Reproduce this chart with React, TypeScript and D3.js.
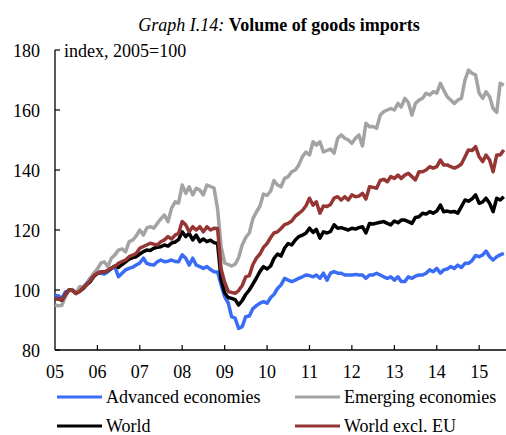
import React from "react";
import * as d3 from "d3";

const title = "Volume of goods imports";
const titlePrefix = "Graph I.14:";
const unitLabel = "index, 2005=100";
const seriesNames = ["Advanced economies", "Emerging economies", "World", "World excl. EU"];
const seriesColors = ["#3a6cf5", "#a3a3a3", "#000000", "#963634"];
const yTicks = [80, 100, 120, 140, 160, 180];
const yearTicks = [2005, 2006, 2007, 2008, 2009, 2010, 2011, 2012, 2013, 2014, 2015];
const startYear = 2005;

// monthly, Jan 2005 - Aug 2015
const advanced = [
  98.3, 98.0, 97.2, 99.4, 99.8, 100.0, 98.9, 100.3, 101.0, 102.2, 104.0, 104.8,
  105.6, 105.6, 105.3, 106.1, 107.2, 107.8, 104.4, 105.6, 106.7, 107.2, 107.6, 108.3,
  109.0, 110.6, 108.9, 108.5, 108.3, 109.4, 110.0, 109.4, 109.6, 110.0, 109.5, 109.4,
  111.7, 110.6, 108.3, 110.6, 108.3, 107.8, 107.2, 107.8, 106.8, 106.1, 106.0, 101.7,
  97.8, 95.6, 91.1, 90.6, 87.2, 87.8, 91.1, 91.3, 93.8, 94.8, 95.6, 96.1,
  95.6, 97.5, 98.5, 100.5, 101.7, 103.9, 103.3, 102.8, 103.3, 103.9, 104.4, 105.0,
  104.8, 104.4, 105.0, 103.9, 105.6, 103.3, 105.6, 106.1, 105.6, 105.6, 105.0, 105.0,
  105.0, 105.2, 105.0, 105.0, 103.9, 105.0, 105.0, 105.6, 105.0, 104.4, 103.9, 104.4,
  103.3, 104.4, 102.8, 102.8, 104.4, 103.9, 104.6, 105.0, 105.0, 105.6, 106.7, 106.1,
  107.2, 105.6, 106.7, 107.0, 107.8, 107.2, 108.3, 107.5, 108.9, 108.9, 109.8, 111.5,
  111.1, 111.7, 113.0, 111.1, 110.0, 111.1, 111.7, 112.2,
];
const emerging = [
  95.0, 94.7, 94.9, 97.8, 100.0, 100.2, 98.9, 101.1, 101.0, 101.7, 103.9, 105.6,
  107.0, 109.0, 109.4, 107.8, 110.6, 111.7, 113.3, 113.7, 112.7, 116.1, 116.6, 118.0,
  120.0, 118.3, 120.6, 121.1, 120.6, 122.2, 123.7, 125.0, 122.8, 127.2, 129.4, 129.0,
  135.0, 132.2, 134.4, 131.7, 133.9, 133.3, 131.7, 135.0, 134.5, 134.0, 127.0, 114.5,
  109.0, 108.5, 108.0, 108.6, 110.8, 115.0, 117.5, 119.0, 123.8, 126.0, 128.0, 132.0,
  131.5, 133.0, 136.5, 135.0, 134.4, 137.2, 137.8, 139.4, 140.0, 141.7, 144.4, 146.0,
  145.0, 149.4, 148.3, 149.4, 146.0, 146.5, 147.0, 145.6, 150.6, 151.7, 150.6, 150.0,
  148.9, 150.6, 151.7, 148.0, 155.6, 154.4, 154.5, 153.9, 158.3, 159.4, 160.0, 160.5,
  160.0, 162.2, 161.0, 163.9, 162.5, 158.3, 162.2, 163.3, 163.9, 165.6, 165.0, 166.1,
  165.6, 168.9, 166.7, 164.4, 163.3, 162.2, 163.3, 163.9, 170.0, 173.3, 172.2, 171.7,
  165.6, 163.9, 166.1, 164.4, 160.5, 159.2, 168.9, 168.3,
];
const world = [
  97.2, 97.0, 96.6, 98.5, 100.0, 99.8, 98.9, 99.5, 100.5, 101.8, 102.8, 104.5,
  105.5, 106.1, 106.0, 106.5, 107.2, 108.0, 107.5, 108.5, 109.4, 110.3, 110.8, 111.1,
  112.0, 112.8, 113.3, 113.2, 113.9, 114.2, 114.4, 115.0, 114.6, 115.6, 116.0, 116.8,
  119.4, 117.8, 118.9, 116.7, 118.3, 116.1, 117.0, 116.1, 116.6, 115.8, 115.5, 103.5,
  99.0, 97.5, 97.2, 96.8, 95.0, 96.5, 98.5, 100.0, 102.0, 104.0, 106.2, 107.8,
  107.0, 108.0, 110.5, 112.0, 111.3, 114.0, 115.5, 115.0, 116.7, 117.8, 118.3, 118.9,
  120.6, 119.2, 120.2, 117.3, 119.4, 119.0, 119.5, 121.7, 120.6, 120.8, 120.4, 120.0,
  120.6, 120.3, 120.8, 121.1, 119.0, 122.2, 122.0, 122.3, 122.6, 122.8, 122.2, 121.7,
  123.0, 122.4, 123.3, 123.3, 122.8, 122.2, 124.2, 124.4, 125.6, 125.3, 126.1, 125.6,
  126.3, 128.3, 126.1, 126.3, 126.0, 126.2, 125.6, 127.8, 130.0, 129.6, 130.4, 131.7,
  128.9, 129.4, 130.6, 128.9, 126.1, 130.6, 130.0, 131.1,
];
const worldExEU = [
  97.2, 97.0, 96.6, 98.5, 100.0, 99.8, 98.8, 99.6, 100.8, 101.8, 103.2, 104.8,
  105.6, 106.1, 106.0, 106.6, 107.3, 107.8, 108.9, 109.5, 110.0, 111.1, 111.6, 112.2,
  113.9, 114.5, 115.0, 115.6, 115.3, 115.0, 116.1, 116.7, 117.8, 117.0, 118.3, 118.9,
  122.8, 121.7, 119.4, 121.1, 120.0, 121.1, 119.4, 121.1, 120.0, 120.6, 120.5, 107.0,
  102.5, 99.5, 99.2, 98.9, 99.8, 101.5, 104.4, 104.8, 108.5, 110.6, 112.0, 114.2,
  115.5, 117.5, 119.0, 119.4, 120.5, 121.8, 122.2, 123.0, 124.6, 125.5, 126.5, 128.0,
  130.6, 128.3, 129.4, 125.6, 128.0, 127.8, 128.5, 130.6, 131.1, 130.0, 131.1, 130.0,
  131.7, 131.1, 131.3, 132.2, 130.3, 134.4, 134.2, 133.9, 136.5, 136.9, 136.1, 137.8,
  137.2, 138.3, 137.2, 138.3, 138.9, 137.8, 136.7, 139.4, 139.4, 140.0, 141.1, 140.6,
  141.1, 143.3, 141.7, 141.7, 141.1, 140.6, 141.1, 142.0, 144.4, 146.7, 146.5, 147.8,
  144.4, 142.8, 145.0, 143.3, 139.4, 145.0, 145.0, 146.7,
];

const allSeries = [advanced, emerging, world, worldExEU];

const W = 506;
const H = 435;
const FONT = "'Liberation Serif', 'Times New Roman', serif";

export default function App() {
  const x = d3
    .scaleTime()
    .domain([new Date(2005, 0, 1), new Date(2015, 7, 20)])
    .range([55, 506]);
  const y = d3.scaleLinear().domain([80, 180]).range([350, 50]);
  const dateOf = (i: number) => new Date(startYear, i, 1);

  const line = d3
    .line<number>()
    .x((_, i) => x(dateOf(i)))
    .y((v) => y(v));

  const legendItems = [
    { name: seriesNames[0], color: seriesColors[0], lx: 57, ly: 397 },
    { name: seriesNames[1], color: seriesColors[1], lx: 295, ly: 397 },
    { name: seriesNames[2], color: seriesColors[2], lx: 57, ly: 426 },
    { name: seriesNames[3], color: seriesColors[3], lx: 295, ly: 426 },
  ];

  return (
    <svg
      width={W}
      height={H}
      style={{ position: "absolute", left: 0, top: 0, background: "#fff" }}
      fontFamily={FONT}
    >
      <rect x={0} y={0} width={W} height={H} fill="#fff" />
      <text x={279} y={31} textAnchor="middle" fontSize={18}>
        <tspan fontStyle="italic">{titlePrefix} </tspan>
        <tspan fontWeight="bold">{title}</tspan>
      </text>

      {/* y axis */}
      <line x1={55} x2={55} y1={y(180)} y2={y(80)} stroke="#000" strokeWidth={1.3} />
      {yTicks.map((t) => (
        <g key={t}>
          <line x1={55} x2={60} y1={y(t)} y2={y(t)} stroke="#000" strokeWidth={1.2} />
          <text x={40} y={y(t) + 6.5} textAnchor="end" fontSize={18}>
            {t}
          </text>
        </g>
      ))}
      <text x={64} y={57} fontSize={18}>
        {unitLabel}
      </text>

      {/* x axis */}
      <line x1={55} x2={506} y1={350} y2={350} stroke="#000" strokeWidth={1.3} />
      {yearTicks.map((yr) => {
        const xx = x(new Date(yr, 0, 1));
        return (
          <g key={yr}>
            {yr > startYear && (
              <line x1={xx} x2={xx} y1={350} y2={345} stroke="#000" strokeWidth={1.2} />
            )}
            <text x={xx} y={378} textAnchor="middle" fontSize={18}>
              {String(yr % 100).padStart(2, "0")}
            </text>
          </g>
        );
      })}

      {/* lines */}
      {allSeries.map((s, k) => (
        <path
          key={k}
          d={line(s) || ""}
          fill="none"
          stroke={seriesColors[k]}
          strokeWidth={3.5}
          strokeLinejoin="round"
          strokeLinecap="butt"
        />
      ))}

      {/* legend */}
      {legendItems.map((it) => (
        <g key={it.name}>
          <line x1={it.lx} x2={it.lx + 45} y1={it.ly} y2={it.ly} stroke={it.color} strokeWidth={3} />
          <text x={it.lx + 49} y={it.ly + 6} fontSize={18}>
            {it.name}
          </text>
        </g>
      ))}
    </svg>
  );
}
